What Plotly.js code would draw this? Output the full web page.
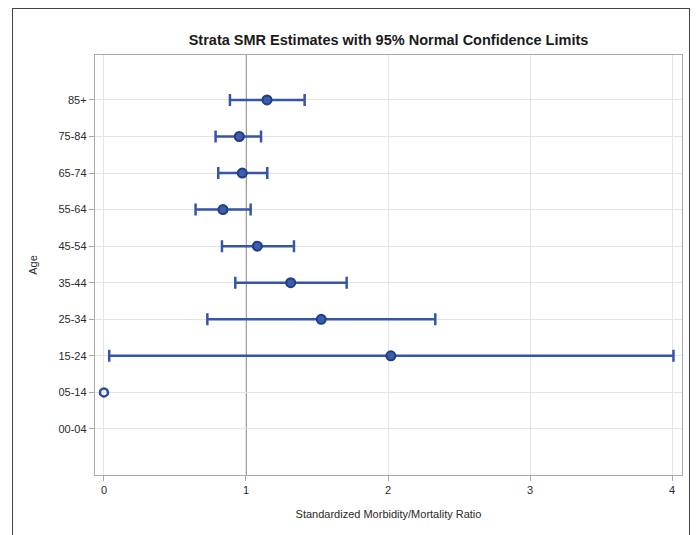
<!DOCTYPE html>
<html>
<head>
<meta charset="utf-8">
<script src="https://cdn.plot.ly/plotly-3.0.1.min.js"></script>
<style>
  html, body { margin: 0; padding: 0; background: #fff; }
  #wrap { position: relative; width: 700px; height: 535px; }
  #chart { width: 700px; height: 535px; }
  #frame { position: absolute; left: 12px; top: 8px; width: 678px; height: 540px;
           border: 1.5px solid #444; pointer-events: none; box-sizing: border-box; }
</style>
</head>
<body>
<div id="wrap">
  <div id="chart"></div>
  <div id="frame"></div>
</div>
<script>
// Age strata (bottom to top)
const ages  = ["00-04", "05-14", "15-24", "25-34", "35-44", "45-54", "55-64", "65-74", "75-84", "85+"];
// SMR point estimates
const smr   = [null, 0.0, 2.02, 1.53, 1.315, 1.08, 0.838, 0.974, 0.953, 1.148];
// 95% normal confidence limits
const lower = [null, null, 0.037, 0.728, 0.925, 0.831, 0.645, 0.805, 0.786, 0.887];
const upper = [null, null, 4.01, 2.333, 1.709, 1.338, 1.033, 1.15, 1.106, 1.413];
const xTicks = [0, 1, 2, 3, 4];

const blue = '#3d5cab';
const barBlue = '#3556a6';

const ciY = [], ciX = [], ciPlus = [], ciMinus = [];
const noY = [], noX = [];
ages.forEach((a, i) => {
  if (smr[i] === null) return;
  if (lower[i] !== null && upper[i] !== null) {
    ciY.push(a); ciX.push(smr[i]);
    ciPlus.push(upper[i] - smr[i]); ciMinus.push(smr[i] - lower[i]);
  } else {
    noY.push(a); noX.push(smr[i]);
  }
});

const traces = [
  {
    type: 'scatter', mode: 'markers', x: ciX, y: ciY,
    marker: { symbol: 'circle', size: 9, color: blue, line: { color: '#203d86', width: 2 } },
    error_x: { type: 'data', symmetric: false, array: ciPlus, arrayminus: ciMinus,
               color: barBlue, thickness: 2.5, width: 6 },
    showlegend: false, hoverinfo: 'x+y'
  },
  {
    type: 'scatter', mode: 'markers', x: noX, y: noY,
    marker: { symbol: 'circle-open', size: 8, color: '#2a4a9a', line: { width: 2.5 } },
    showlegend: false, hoverinfo: 'x+y'
  }
];

const layout = {
  width: 700, height: 535,
  margin: { l: 95, r: 18, t: 55, b: 60 },
  paper_bgcolor: '#fff', plot_bgcolor: '#fff',
  font: { family: '"Liberation Sans", Arial, sans-serif', color: '#333', size: 11 },
  title: { text: 'Strata SMR Estimates with 95% Normal Confidence Limits',
           font: { family: '"Liberation Sans", Arial, sans-serif', size: 14.5, color: '#1a1a1a', weight: 'bold' },
           x: 0.555, xanchor: 'center', y: 0.925, yanchor: 'middle' },
  xaxis: {
    range: [-0.063, 4.07], tickvals: xTicks, ticktext: xTicks.map(String),
    showgrid: true, gridcolor: '#e4e4e4', gridwidth: 1, zeroline: false,
    showline: true, linecolor: '#aaaaaa', linewidth: 1.2, mirror: true,
    ticks: 'outside', ticklen: 5, tickcolor: '#aaaaaa',
    tickfont: { size: 11, color: '#2a2a2a' },
    title: { text: 'Standardized Morbidity/Mortality Ratio', font: { size: 11, color: '#2a2a2a' }, standoff: 14 }
  },
  yaxis: {
    type: 'category', categoryorder: 'array', categoryarray: ages,
    range: [-1.26, 10.23],
    showgrid: true, gridcolor: '#e4e4e4', gridwidth: 1, zeroline: false,
    showline: true, linecolor: '#aaaaaa', linewidth: 1.2, mirror: true,
    ticks: 'outside', ticklen: 5, tickcolor: '#aaaaaa',
    tickfont: { size: 11, color: '#2a2a2a' },
    title: { text: 'Age', font: { size: 11, color: '#2a2a2a' }, standoff: 18 }
  },
  shapes: [
    { type: 'line', xref: 'x', yref: 'paper', x0: 1, x1: 1, y0: 0, y1: 1,
      line: { color: '#9e9e9e', width: 2 }, layer: 'below' }
  ]
};

Plotly.newPlot('chart', traces, layout, { displayModeBar: false, staticPlot: true });
</script>
</body>
</html>
